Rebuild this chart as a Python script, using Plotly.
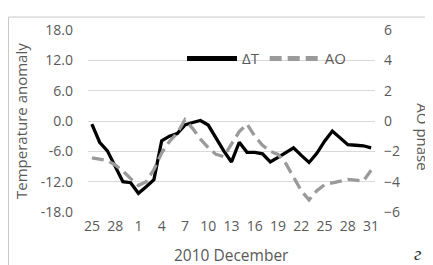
import plotly.graph_objects as go

# Days: 25 Nov 2010 .. 31 Dec 2010
days = [25, 26, 27, 28, 29, 30,
        1, 2, 3, 4, 5, 6, 7, 8, 9, 10, 11, 12, 13, 14, 15, 16,
        17, 18, 19, 20, 21, 22, 23, 24, 25, 26, 27, 28, 29, 30, 31]

# Temperature anomaly (left axis)
delta_t = [-0.6, -4.2, -5.9, -9.1, -12.0, -12.2, -14.3, -13.0, -11.6, -3.9,
           -3.0, -2.5, -0.8, -0.3, 0.1, -0.8, -3.4, -5.9, -8.1, -4.2,
           -6.2, -6.2, -6.5, -8.1, -7.2, -6.3, -5.3, -6.8, -8.2, -6.4,
           -4.0, -2.0, -3.4, -4.7, -4.8, -4.9, -5.3]

# AO index (right axis)
ao = [-2.43, -2.5, -2.6, -2.9, -3.3, -3.8, -4.25, -4.0, -3.2, -2.1,
      -1.35, -0.8, 0.08, -0.5, -1.2, -1.75, -2.2, -2.35, -1.5, -0.7,
      -0.2, -1.0, -1.6, -2.0, -2.2, -2.8, -3.7, -4.6, -5.2, -4.6,
      -4.2, -4.1, -4.0, -3.85, -3.9, -3.95, -3.25]

tick_step = 3
left_ticks = [18, 12, 6, 0, -6, -12, -18]
left_ticktext = ["18.0", "12.0", "6.0", "0.0", "-6.0", "-12.0", "-18.0"]
right_ticks = [6, 4, 2, 0, -2, -4, -6]

x = list(range(len(days)))
tickvals = x[::tick_step]
ticktext = [str(days[i]) for i in tickvals]

W, H = 433, 265
ML, MR, MT, MB = 80, 66, 14, 61
PW, PH = W - ML - MR, H - MT - MB

def px(xp):
    return (xp - ML) / PW

def py(yp):
    return (H - MB - yp) / PH

FONT = "Open Sans"
GREY = "#595959"

fig = go.Figure()
fig.add_trace(go.Scatter(
    x=x, y=delta_t, name="ΔT", mode="lines",
    line=dict(color="black", width=3.3),
    yaxis="y"))
fig.add_trace(go.Scatter(
    x=x, y=ao, name="AO", mode="lines",
    line=dict(color="#9a9a9a", width=3.3, dash="12px,6px"),
    yaxis="y2"))

fig.update_layout(
    width=W, height=H,
    margin=dict(l=ML, r=MR, t=MT, b=MB),
    paper_bgcolor="white", plot_bgcolor="white",
    font=dict(family=FONT, color=GREY, size=14),
    showlegend=True,
    legend=dict(orientation="h", x=px(174), y=py(44), xanchor="left", yanchor="middle",
                bgcolor="rgba(0,0,0,0)", font=dict(size=15, color=GREY),
                itemwidth=50, tracegroupgap=0, itemsizing="constant"),
    xaxis=dict(range=[-0.5, len(days) - 0.5], tickvals=tickvals, ticktext=ticktext,
               showgrid=False, zeroline=False, showline=False, ticks="",
               tickfont=dict(size=14, color=GREY), ticklabelstandoff=4),
    yaxis=dict(range=[-18, 18], tickvals=left_ticks, ticktext=left_ticktext,
               showgrid=True, gridcolor="#d9d9d9", gridwidth=1, zeroline=False,
               showline=False, ticks="", tickfont=dict(size=14, color=GREY),
               ticklabelstandoff=14),
    yaxis2=dict(range=[-6, 6], tickvals=right_ticks, overlaying="y", side="right",
                showgrid=False, zeroline=False, showline=False, ticks="",
                tickfont=dict(size=14, color=GREY), ticklabelstandoff=8),
    annotations=[
        dict(text="Temperature anomaly", x=px(13), y=py(109), xref="paper", yref="paper",
             showarrow=False, textangle=-90, font=dict(size=15, color=GREY),
             xanchor="center", yanchor="middle"),
        dict(text="AO phase", x=px(415), y=py(125), xref="paper", yref="paper",
             showarrow=False, textangle=90, font=dict(size=15, color=GREY),
             xanchor="center", yanchor="middle"),
        dict(text="2010 December", x=px(223), y=py(249), xref="paper", yref="paper",
             showarrow=False, font=dict(size=15.5, color=GREY),
             xanchor="center", yanchor="middle"),
        dict(text="<i>г</i>", x=px(409), y=py(247), xref="paper", yref="paper",
             showarrow=False, font=dict(size=19, color="#333333", family="Liberation Serif"),
             xanchor="center", yanchor="middle"),
    ],
    shapes=[
        dict(type="rect", xref="paper", yref="paper",
             x0=px(0.5), x1=px(W - 1.5), y0=py(H - 1.5), y1=py(0.5),
             line=dict(color="#c8c8c8", width=1), fillcolor="rgba(0,0,0,0)", layer="below"),
    ],
)

fig.write_html("out.html")
